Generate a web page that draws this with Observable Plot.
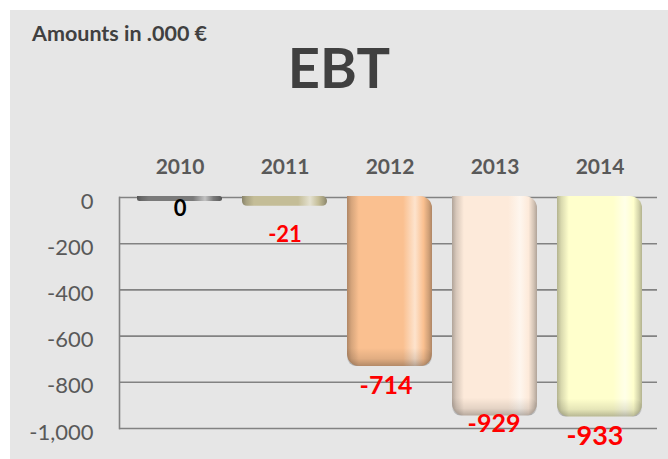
<!DOCTYPE html>
<html>
<head>
<meta charset="utf-8">
<script src="https://cdn.jsdelivr.net/npm/d3@7"></script>
<script src="https://cdn.jsdelivr.net/npm/@observablehq/plot@0.6"></script>
<style>
  html, body { margin: 0; padding: 0; background: #ffffff; }
  body { width: 668px; height: 459px; position: relative; overflow: hidden; font-family: Lato, "Open Sans", sans-serif; }
  #box { position: absolute; left: 10px; top: 10px; width: 658px; height: 449px; background: #e6e6e6; }
  #sub { position: absolute; left: 22px; top: 13px; font-size: 21.5px; line-height: 21.5px; font-weight: 700; color: #404040; white-space: nowrap; }
  #title { position: absolute; left: 0; width: 658px; top: 29px; text-align: center; font-size: 56px; line-height: 56px; font-weight: 700; color: #404040; }
  #chart { position: absolute; left: 0; top: 0; }
  #chart svg text.bold { font-weight: 700; }
</style>
</head>
<body>
<div id="box">
  <div id="chart"></div>
  <div id="sub">Amounts in .000 €</div>
  <div id="title">EBT</div>
</div>
<script>
// ---- data ----
const years = ["2010", "2011", "2012", "2013", "2014"];
const ebt = [0, -21, -714, -929, -933];
const yTicks = [0, -200, -400, -600, -800, -1000];

// ---- styles ----
const barColors = ["#7a7a7a", "#c4bd97", "#fac090", "#fdeada", "#ffffcc"];
const labelColors = ["#000000", "#ff0000", "#ff0000", "#ff0000", "#ff0000"];
const labelSizes = [22, 22, 25, 25, 27];
const labelNudgeX = [0, 0, -4, -1, -5];
const labelNudgeY = [11, 33, 24, 12, 23];

const data = years.map((year, i) => ({ year, value: ebt[i], grad: `url(#barGrad${i})` }));

const labelMarks = data.map((d, i) =>
  Plot.text([d], {
    x: "year",
    y: "value",
    text: (e) => e.value.toLocaleString("en-US"),
    fill: labelColors[i],
    fontSize: labelSizes[i],
    fontWeight: "bold",
    dx: labelNudgeX[i],
    dy: labelNudgeY[i],
    fontFamily: "Lato",
    ariaLabel: "value label"
  })
);

const svg = Plot.plot({
  width: 658,
  height: 449,
  marginTop: 187,
  marginBottom: 31,
  marginLeft: 109,
  marginRight: 11,
  style: { background: "transparent", fontFamily: "Lato, sans-serif", overflow: "visible" },
  x: { domain: years, range: [117, 642], paddingInner: 0.19, paddingOuter: 0.095, label: null },
  y: { domain: [-1000, 0], label: null },
  color: { type: "identity" },
  marks: [
    Plot.gridY(yTicks, { stroke: "#828282", strokeOpacity: 1, strokeWidth: 1.6 }),
    Plot.frame({ anchor: "left", stroke: "#828282", strokeWidth: 1.6 }),
    Plot.barY(data, {
      x: "year",
      y: "value",
      fill: "grad",
      insetTop: -1,
      insetBottom: -4,
      ry2: 12,
      rx2: 12
    }),
    // darker shading of the rounded bottom of the tall bars
    Plot.barY(data.filter((d) => d.value < -100), {
      x: "year",
      y1: "value",
      y2: "value",
      fill: "url(#bottomShade)",
      insetTop: -14,
      insetBottom: -4,
      ry2: 12,
      rx2: 12
    }),
    Plot.axisX({ anchor: "top", tickSize: 0, tickPadding: 24, fontSize: 21, fontWeight: "bold", color: "#595959", label: null }),
    Plot.axisY(yTicks, { anchor: "left", tickSize: 0, tickPadding: 26, fontSize: 22, color: "#595959", dy: 4, tickFormat: (d) => d.toLocaleString("en-US"), label: null }),
    ...labelMarks
  ]
});

// make bold texts bold
d3.select(svg).selectAll('g[aria-label="value label"] text, g[aria-label="x-axis tick label"] text').classed("bold", true).attr("font-weight", 700);

// gradient definitions for the bevelled bar look
const defs = d3.select(svg).insert("defs", ":first-child");
barColors.forEach((c, i) => {
  const base = d3.color(c);
  const g = defs.append("linearGradient")
    .attr("id", `barGrad${i}`)
    .attr("x1", "0").attr("x2", "1").attr("y1", "0").attr("y2", "0");
  const stops = [
    [0, base.darker(1.0)],
    [0.05, base.darker(0.45)],
    [0.14, base],
    [0.66, base],
    [0.8, d3.interpolateRgb(c, "#ffffff")(0.55)],
    [0.9, base],
    [0.96, base.darker(0.5)],
    [1, base.darker(1.0)]
  ];
  stops.forEach(([o, col]) => g.append("stop").attr("offset", o).attr("stop-color", d3.color(col).formatHex()));
});
const shade = defs.append("linearGradient").attr("id", "bottomShade")
  .attr("x1", "0").attr("x2", "0").attr("y1", "0").attr("y2", "1");
shade.append("stop").attr("offset", 0).attr("stop-color", "#000").attr("stop-opacity", 0);
shade.append("stop").attr("offset", 0.6).attr("stop-color", "#000").attr("stop-opacity", 0.1);
shade.append("stop").attr("offset", 1).attr("stop-color", "#000").attr("stop-opacity", 0.28);

document.getElementById("chart").appendChild(svg);
</script>
</body>
</html>
